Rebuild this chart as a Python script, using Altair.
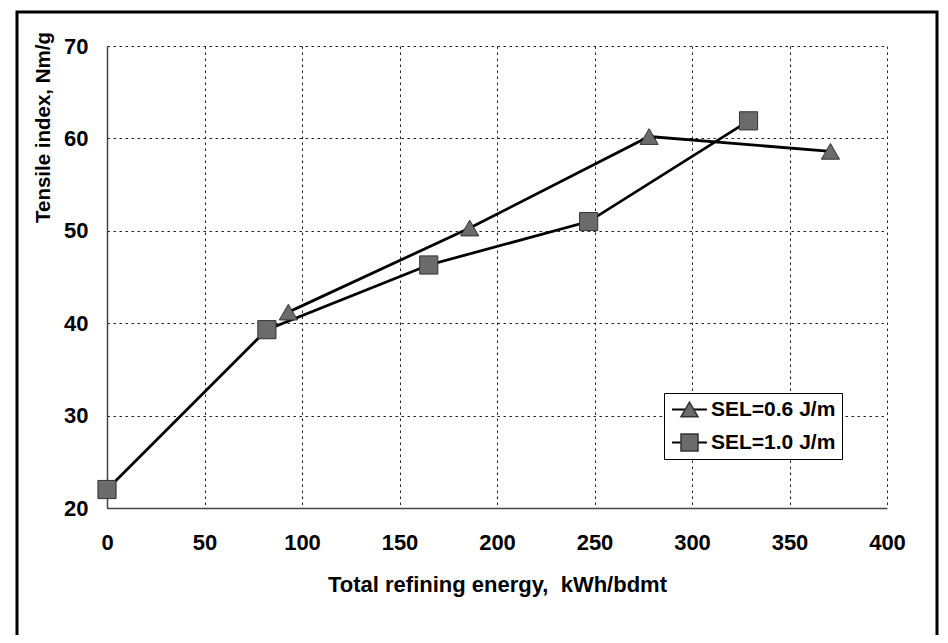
import altair as alt
import pandas as pd

# ---- data ----
series_names = ["SEL=0.6 J/m", "SEL=1.0 J/m"]
energy_06 = [93, 186, 278, 371]
tensile_06 = [41.2, 50.3, 60.2, 58.6]
energy_10 = [0, 82, 165, 247, 329]
tensile_10 = [22.0, 39.3, 46.3, 51.0, 61.9]
x_ticks = [0, 50, 100, 150, 200, 250, 300, 350, 400]
y_ticks = [20, 30, 40, 50, 60, 70]

df = pd.DataFrame({
    "energy": energy_06 + energy_10,
    "tensile": tensile_06 + tensile_10,
    "series": [series_names[0]] * len(energy_06) + [series_names[1]] * len(energy_10),
})

FONT = "Liberation Sans"
MARK_FILL = "#6b6b6b"

x_enc = alt.X(
    "energy:Q",
    scale=alt.Scale(domain=[0, 400], nice=False, zero=False),
    axis=alt.Axis(
        values=x_ticks,
        title="Total refining energy, \u00a0kWh/bdmt",
        labelPadding=24,
        labelFlush=False,
        titleY=83,
        titleBaseline="alphabetic",
    ),
)
y_enc = alt.Y(
    "tensile:Q",
    scale=alt.Scale(domain=[20, 70], nice=False, zero=False),
    axis=alt.Axis(
        values=y_ticks,
        title="Tensile index, Nm/g",
        labelPadding=19,
        titleX=-64,
        titleY=81,
        titleAngle=270,
        titleAlign="center",
        titleBaseline="middle",
        titleFontSize=20.5,
    ),
)

# shared legend layout so the two legends overlay exactly
LEG = dict(
    orient="none",
    legendX=557,
    legendY=347,
    title=None,
    padding=6,
    rowPadding=11,
    symbolSize=289,
    symbolOffset=9,
    labelOffset=11,
    labelFont=FONT,
    labelFontSize=21,
    labelFontWeight="bold",
    labelLimit=300,
)

base = alt.Chart(df)

lines = base.mark_line(strokeWidth=2.8).encode(
    x=x_enc,
    y=y_enc,
    color=alt.Color(
        "series:N",
        scale=alt.Scale(domain=series_names, range=["black", "black"]),
        legend=alt.Legend(
            fillColor="white",
            strokeColor="black",
            symbolType="M-2.05,0L2.05,0",
            symbolStrokeWidth=2,
            labelColor="black",
            labelOpacity=0,
            zindex=1,
            **LEG,
        ),
    ),
    order="energy:Q",
)

points = base.mark_point(
    filled=True, fill=MARK_FILL, stroke="#333333", strokeWidth=1, opacity=1, size=330
).encode(
    x=x_enc,
    y=y_enc,
    shape=alt.Shape(
        "series:N",
        scale=alt.Scale(domain=series_names, range=["triangle-up", "square"]),
        legend=alt.Legend(
            labelColor="black",
            zindex=2,
            **LEG,
        ),
    ),
)

frame = alt.Chart(pd.DataFrame({"f": [0]})).mark_rect(
    fillOpacity=0, stroke="black", strokeWidth=3
).encode(
    x=alt.value(-90), x2=alt.value(830), y=alt.value(-34), y2=alt.value(592)
)

chart = alt.layer(frame, lines, points).resolve_legend(
    color="independent", shape="independent"
).properties(
    width=780,
    height=462,
    autosize=alt.AutoSizeParams(type="none"),
    padding={"left": 99, "top": 38, "right": 53, "bottom": 127},
    background="white",
).configure_view(
    stroke="transparent"
).configure_axis(
    grid=True,
    gridColor="#222222",
    gridOpacity=1,
    gridWidth=1,
    gridDash=[2.5, 3.5],
    domainColor="#444444",
    domainWidth=1.5,
    ticks=False,
    labelFont=FONT,
    labelFontSize=22,
    labelFontWeight="bold",
    labelColor="black",
    titleFont=FONT,
    titleFontSize=22,
    titleFontWeight="bold",
    titleColor="black",
)

chart.save("out.html", embed_options={"renderer": "svg", "actions": False})
